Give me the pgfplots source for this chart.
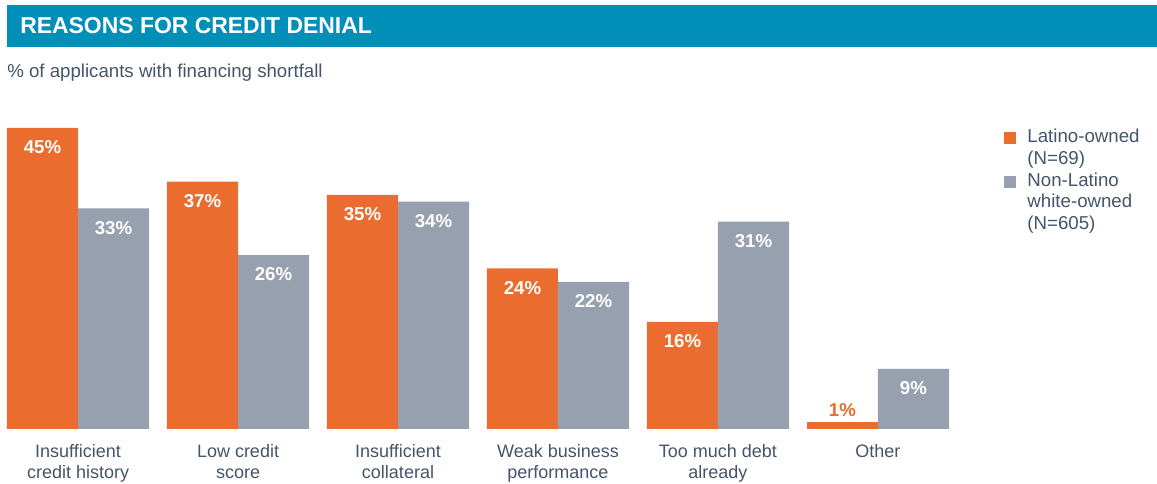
\documentclass[border=0pt]{standalone}
\usepackage{pgfplots}
\pgfplotsset{compat=1.18}
\usepackage{fontspec}
\setmainfont{Liberation Sans}
\definecolor{ttl}{HTML}{008FB8}
\definecolor{lat}{HTML}{EA6D2F}
\definecolor{nonl}{HTML}{97A0AE}
\definecolor{txt}{HTML}{44546A}
\begin{document}
\begin{tikzpicture}[x=0.75pt,y=0.75pt]
\path[use as bounding box] (0,0) rectangle (1157,484);
\fill[ttl] (7,437) rectangle (1157,479);
\node[anchor=west, text=white, font=\bfseries\fontsize{17.2}{20}\selectfont, inner sep=0] at (20,458) {REASONS FOR CREDIT DENIAL};
\node[anchor=west, text=txt, font=\fontsize{14}{16}\selectfont, inner sep=0] at (7,411) {\% of applicants with financing shortfall};
\begin{axis}[
  at={(5.25pt,41.25pt)}, anchor=south west, scale only axis,
  width=706.5pt, height=225.75pt,
  xmin=-0.444, xmax=5.444, ymin=0, ymax=45,
  clip=false,
  axis line style={draw=none},
  ytick=\empty,
  xtick={0,1,2,3,4,5},
  xticklabels={{Insufficient\\credit history},{Low credit\\score},{Insufficient\\collateral},{Weak business\\performance},{Too much debt\\already},{Other}},
  major tick length=0pt,
  x tick label style={font=\fontsize{13.5}{15.75}\selectfont, text=txt, align=center, anchor=north, inner sep=0pt, yshift=-11.75pt},
  ybar, bar width=0.444,
  /pgf/number format/assume math mode=true,
  legend image code/.code={\fill[#1, draw=none] (0pt,-4.5pt) rectangle (9pt,4.5pt); \path (16.5pt,0pt);},
  legend style={at={(rel axis cs:1.054,1.01)}, anchor=north west, draw=none, fill=none,
    font=\fontsize{14}{16}\selectfont, text=txt, row sep=1.6pt,
    nodes={inner sep=1pt, text height=9.8pt, text depth=3pt}},
  legend cell align=left,
]
\addplot[fill=lat, draw=none, bar shift=-0.222, forget plot,
  nodes near coords={\pgfmathprintnumber{\pgfplotspointmeta}\%},
  nodes near coords style={anchor=center, text=white, font=\bfseries\fontsize{14}{16}\selectfont, yshift=-14.6pt}]
  coordinates {(0,45) (1,37) (2,35) (3,24) (4,16)};
\addplot[fill=lat, draw=none, bar shift=-0.222, forget plot,
  nodes near coords={\pgfmathprintnumber{\pgfplotspointmeta}\%},
  nodes near coords style={anchor=center, text=lat, font=\bfseries\fontsize{14}{16}\selectfont, yshift=9.5pt}]
  coordinates {(5,1)};
\addplot[fill=nonl, draw=none, bar shift=0.222, forget plot,
  nodes near coords={\pgfmathprintnumber{\pgfplotspointmeta}\%},
  nodes near coords style={anchor=center, text=white, font=\bfseries\fontsize{14}{16}\selectfont, yshift=-14.6pt}]
  coordinates {(0,33) (1,26) (2,34) (3,22) (4,31) (5,9)};
\addlegendimage{fill=lat, draw=none}
\addlegendimage{empty legend}
\addlegendimage{fill=nonl, draw=none}
\addlegendimage{empty legend}
\addlegendimage{empty legend}
\legend{Latino-owned,(N=69),Non-Latino,white-owned,(N=605)}
\end{axis}
\end{tikzpicture}
\end{document}
